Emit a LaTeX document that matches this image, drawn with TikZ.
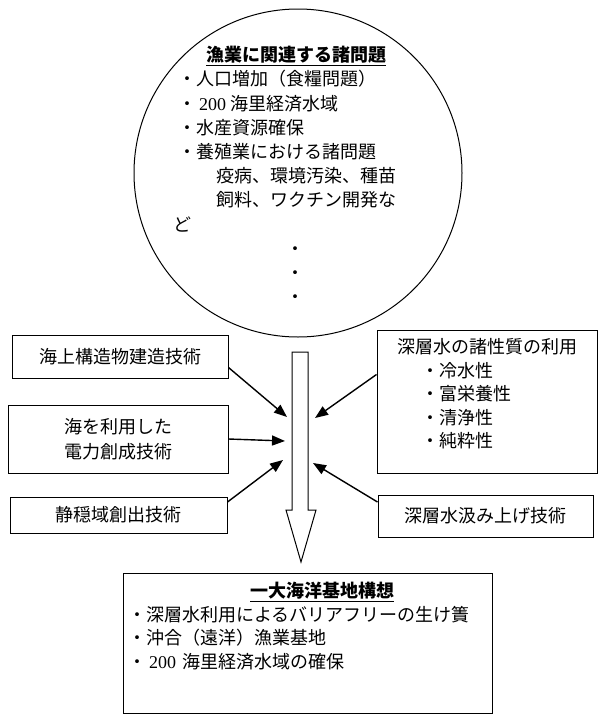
\documentclass[tikz,border=0pt]{standalone}
\usepackage{fontspec}
\setmainfont{Liberation Serif}
\newfontfamily\jpfont{Noto Sans CJK JP}
\usetikzlibrary{arrows.meta}

\begin{document}
\begin{tikzpicture}[x=1pt,y=-1pt,
  every node/.style={font=\jpfont\fontsize{18}{23.5}\selectfont},
  box/.style={draw,line width=1pt,inner sep=0pt},
  feed/.style={line width=1.4pt,-{Triangle[length=13pt,width=10pt]}}]
  \useasboundingbox (0,0) rectangle (600,723);
  % problems of the fishery
  \node[draw,circle,line width=1pt,minimum size=328pt,inner sep=0pt] (issues) at (298,173) {};
  \node[anchor=north west,inner sep=0pt,align=left,
        font=\jpfont\fontsize{18}{24.2}\selectfont] (issuelist) at (173,46) {%
    \hspace*{33pt}\textbf{\underline{漁業に関連する諸問題}}\\
    \hspace*{5pt}・人口増加（食糧問題）\\
    \hspace*{5pt}・\,{\rmfamily 200} 海里経済水域\\
    \hspace*{5pt}・水産資源確保\\
    \hspace*{5pt}・養殖業における諸問題\\
    \hspace*{43pt}疫病、環境汚染、種苗\\
    \hspace*{43pt}飼料、ワクチン開発な\\
    ど\\
    \hspace*{113pt}・\\
    \hspace*{113pt}・\\
    \hspace*{113pt}・};
  % big arrow
  \draw[line width=1pt] (292,352) -- (308,352) -- (308,510) -- (316,510) -- (301,562)
    -- (286,510) -- (292,510) -- cycle;
  \coordinate (inA) at (287,417);
  \coordinate (inB) at (285,441);
  \coordinate (inC) at (283,460);
  \coordinate (inD) at (315,418);
  \coordinate (inE) at (313,463);
  % technologies
  \node[box,minimum width=216pt,minimum height=43pt] (lbox1) at (120,356.5) {海上構造物建造技術};
  \node[box,minimum width=220pt,minimum height=68pt,align=center,
        font=\jpfont\fontsize{18}{25}\selectfont] (lbox2) at (118,439) {海を利用した\\電力創成技術};
  \node[box,minimum width=217pt,minimum height=36pt] (lbox3) at (118.5,515) {静穏域創出技術};
  \node[box,minimum width=220pt,minimum height=143pt,align=left] (rbox1) at (487,401.5) {%
    深層水の諸性質の利用\\
    \hspace*{24pt}・冷水性\\
    \hspace*{24pt}・富栄養性\\
    \hspace*{24pt}・清浄性\\
    \hspace*{24pt}・純粋性\\[-7pt]\mbox{}};
  \node[box,minimum width=215pt,minimum height=42pt] (rbox2) at (485.5,516) {深層水汲み上げ技術};
  % result
  \node[box,minimum width=369pt,minimum height=140pt,inner xsep=5pt,text width=359pt,
        align=left] (base) at (307.5,643) {%
    \hspace*{122pt}\textbf{\underline{一大海洋基地構想}}\\
    ・深層水利用によるバリアフリーの生け簀\\
    ・沖合（遠洋）漁業基地\\
    ・\,{\rmfamily 200} 海里経済水域の確保\\[12pt]\mbox{}};
  \draw[feed] ([yshift=-11pt]lbox1.east) -- (inA);
  \draw[feed] (lbox2.east) -- (inB);
  \draw[feed] ([yshift=13pt]lbox3.east) -- (inC);
  \draw[feed] ([yshift=27pt]rbox1.west) -- (inD);
  \draw[feed] ([yshift=14pt]rbox2.west) -- (inE);
\end{tikzpicture}
\end{document}
